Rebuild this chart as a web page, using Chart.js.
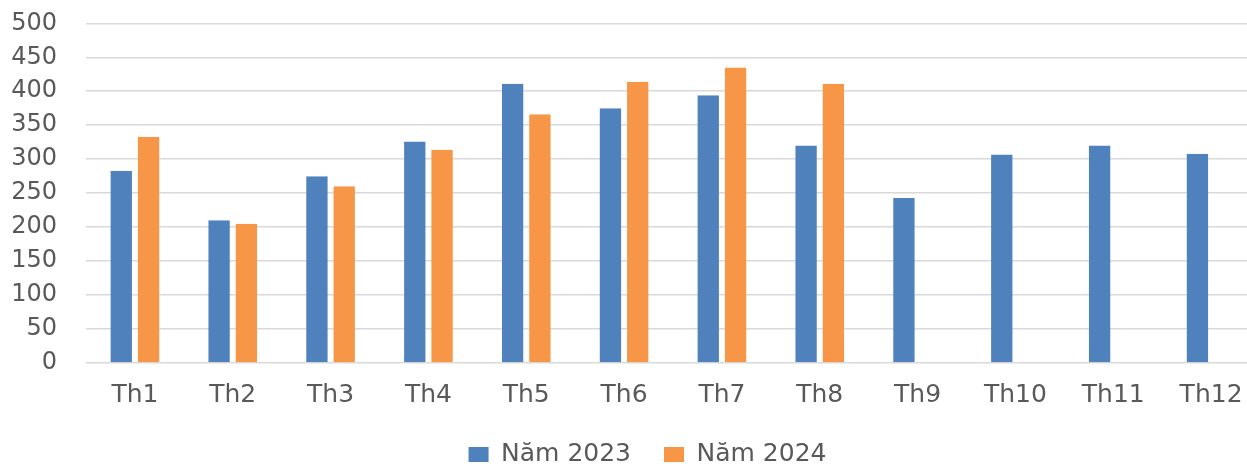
<!DOCTYPE html>
<html>
<head>
<meta charset="utf-8">
<script src="https://cdn.jsdelivr.net/npm/chart.js@4.4.1/dist/chart.umd.min.js"></script>
<style>
  html, body { margin: 0; padding: 0; background: #ffffff; overflow: hidden; }
  #wrap { position: relative; width: 1275px; height: 480px; }
</style>
</head>
<body>
<div id="wrap"><canvas id="c"></canvas></div>
<script>
const categories = ['Th1','Th2','Th3','Th4','Th5','Th6','Th7','Th8','Th9','Th10','Th11','Th12'];
const series2023 = [283, 210, 275, 326, 411, 375, 394, 320, 243, 307, 320, 308];
const series2024 = [333, 205, 260, 314, 366, 414, 435, 411, null, null, null, null];
const seriesNames = ['Năm 2023', 'Năm 2024'];
const yTicks = [0, 50, 100, 150, 200, 250, 300, 350, 400, 450, 500];

const FONT = "'DejaVu Sans', 'Liberation Sans', sans-serif";
const gapBorder = {left: 3, right: 3, top: 0, bottom: 0};

const shiftLegend = {
  id: 'shiftLegend',
  afterLayout(chart) {
    chart.legend.left += 13;
    chart.legend.right += 13;
  }
};

new Chart(document.getElementById('c'), {
  type: 'bar',
  data: {
    labels: categories,
    datasets: [
      { label: seriesNames[0], data: series2023, backgroundColor: '#4F81BD',
        borderColor: 'rgba(255,255,255,0)', borderWidth: gapBorder, borderSkipped: false },
      { label: seriesNames[1], data: series2024, backgroundColor: '#F79646',
        borderColor: 'rgba(255,255,255,0)', borderWidth: gapBorder, borderSkipped: false }
    ]
  },
  plugins: [shiftLegend],
  options: {
    responsive: true,
    maintainAspectRatio: false,
    animation: false,
    layout: { padding: { left: 9, right: 15, top: 23.3, bottom: 3 } },
    datasets: { bar: { barPercentage: 1.0, categoryPercentage: 0.558 } },
    plugins: {
      tooltip: { enabled: false },
      legend: {
        position: 'bottom',
        labels: {
          font: { family: FONT, size: 25 },
          color: '#595959',
          boxWidth: 20,
          boxHeight: 15,
          padding: 33
        }
      }
    },
    scales: {
      x: {
        afterFit: (scale) => { scale.height = 46; },
        grid: { display: false, drawTicks: false },
        border: { display: false },
        ticks: { font: { family: FONT, size: 25 }, color: '#595959', padding: 17, maxRotation: 0, autoSkip: false }
      },
      y: {
        min: 0,
        max: 500,
        afterFit: (scale) => { scale.width = 77; scale.paddingTop = 0; scale.paddingBottom = 0; },
        afterBuildTicks: (scale) => { scale.ticks = yTicks.map(v => ({ value: v })); },
        grid: { color: '#d9d9d9', lineWidth: 1.5, drawTicks: false },
        border: { display: false },
        ticks: { font: { family: FONT, size: 24 }, color: '#595959', padding: 29, autoSkip: false }
      }
    }
  }
});
</script>
</body>
</html>
